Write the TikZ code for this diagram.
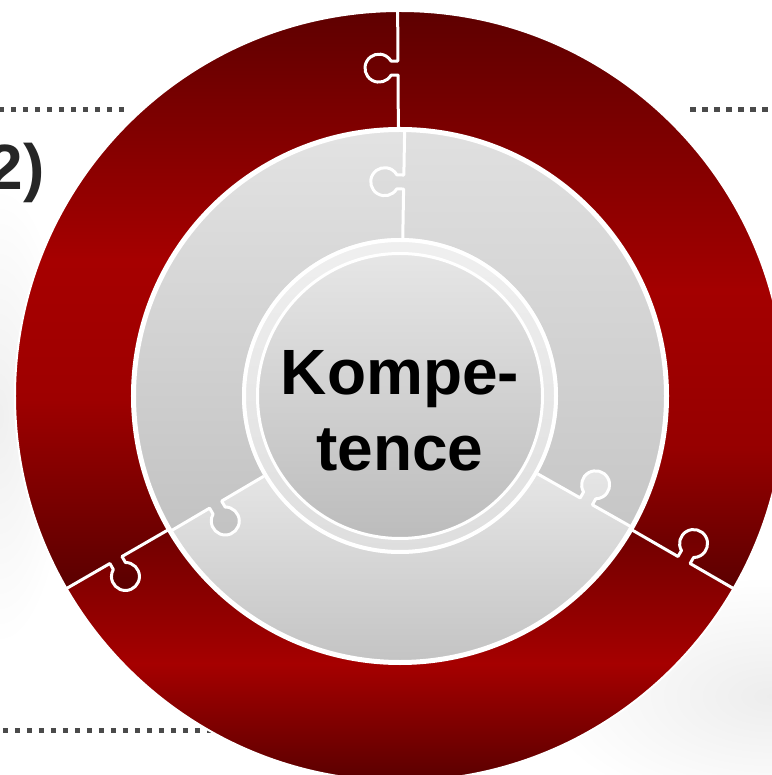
\documentclass[tikz,border=0pt]{standalone}
\usepackage{fontspec}
\setmainfont{Liberation Sans}
\definecolor{rA}{HTML}{5A0000}
\definecolor{rB}{HTML}{A60000}
\definecolor{rC}{HTML}{9E0000}
\definecolor{rD}{HTML}{540000}
\definecolor{rE}{HTML}{A40000}
\definecolor{rF}{HTML}{960000}
\definecolor{rG}{HTML}{6A0000}
\definecolor{rH}{HTML}{500000}
\definecolor{gA}{HTML}{E3E3E3}
\definecolor{gB}{HTML}{C2C2C2}
\definecolor{gC}{HTML}{E0E0E0}
\definecolor{gD}{HTML}{C6C6C6}
\definecolor{gE}{HTML}{E6E6E6}
\definecolor{gF}{HTML}{C3C3C3}
\definecolor{cdTop}{HTML}{E6E6E6}
\definecolor{cdBot}{HTML}{BCBCBC}
\definecolor{dotgray}{HTML}{4A4A4A}
\definecolor{txtgray}{HTML}{262626}
\tikzset{
  seamline/.style={draw=white, line width=3pt, line join=round, line cap=round},
  dotline/.style={draw=dotgray, line width=5pt, dash pattern=on 5.5pt off 6.5pt},
  bigbold/.style={font=\bfseries\fontsize{64}{64}\selectfont, inner sep=0pt},
}
% annular sector: rin, rout, a1, a2
\newcommand\sectorpath[4]{(#3:#1pt) -- (#3:#2pt) arc[start angle=#3,end angle=#4,radius=#2pt] -- (#4:#1pt) arc[start angle=#4,end angle=#3,radius=#1pt] -- cycle}
% knob outline in local frame (x radial, y towards CCW side)
\newcommand\knobpath[1]{(#1-7,-1) -- (#1-7,6.9) arc[start angle=240,end angle=-60,radius=14pt] -- (#1+7,-1) -- cycle}
% piece shadings (absolute frame)
\newcommand\shRedTL{%
  \shade[top color=rA, bottom color=rB] (-400,400) rectangle (400,135);
  \shade[top color=rB, bottom color=rC] (-400,137) rectangle (400,-5);
  \shade[top color=rC, bottom color=rD] (-400,-3) rectangle (400,-210);}
\newcommand\shRedTR{%
  \shade[top color=rA, bottom color=rE] (-400,400) rectangle (400,105);
  \shade[top color=rE, bottom color=rF] (-400,107) rectangle (400,-55);
  \shade[top color=rF, bottom color=rD] (-400,-53) rectangle (400,-210);}
\newcommand\shRedB{%
  \shade[top color=rG, bottom color=rB] (-400,-120) rectangle (400,-269);
  \shade[top color=rB, bottom color=rH] (-400,-267) rectangle (400,-400);}
\newcommand\shGrayTL{\shade[top color=gA, bottom color=gB] (-280,271) rectangle (280,-144);}
\newcommand\shGrayTR{\shade[top color=gC, bottom color=gD] (-280,271) rectangle (280,-139);}
\newcommand\shGrayB{\shade[top color=gE, bottom color=gF] (-280,-74) rectangle (280,-269);}
% knob fill: angle, rm, shading macro
\newcommand\knobfill[3]{%
  \begin{scope}[rotate=#1]
    \clip \knobpath{#2};
    \begin{scope}[rotate=-#1]#3\end{scope}
  \end{scope}}
% seam with knob: angle, rin, rm, rout
\newcommand\seamknob[4]{%
  \begin{scope}[rotate=#1]
    \draw[seamline] (#2,0) -- (#3-7,0) -- (#3-7,6.9) arc[start angle=240,end angle=-60,radius=14pt] -- (#3+7,0) -- (#4,0);
  \end{scope}}
\begin{document}
\begin{tikzpicture}[x=1pt,y=1pt]
\useasboundingbox (-400,-379) rectangle (371,396);
% background
\fill[white] (-400,-379) rectangle (371,396);
\shade[inner color=black!6, outer color=white] (-400,-20) ellipse[x radius=70pt, y radius=230pt];
\shade[inner color=black!7, outer color=white] (371,-300) ellipse[x radius=230pt, y radius=120pt];
% dotted lines
\coordinate (d1a) at (-401,286); \coordinate (d1b) at (-276,286);
\coordinate (d2a) at (290,286);  \coordinate (d2b) at (371,286);
\coordinate (d3a) at (-397,-334); \coordinate (d3b) at (-184,-334);
\draw[dotline] (d1a) -- (d1b);
\draw[dotline] (d2a) -- (d2b);
\draw[dotline] (d3a) -- (d3b);
% left partial label
\node[bigbold, text=txtgray, anchor=base east] (lbl) at (-355,206) {2)};
% red pieces
\begin{scope}\clip \sectorpath{266}{385}{90.35}{210}; \shRedTL \end{scope}
\begin{scope}\clip \sectorpath{266}{385}{-30}{90.35}; \shRedTR \end{scope}
\begin{scope}\clip \sectorpath{266}{385}{210}{330}; \shRedB \end{scope}
% gray pieces
\begin{scope}\clip \sectorpath{150}{267}{89}{210.5}; \shGrayTL \end{scope}
\begin{scope}\clip \sectorpath{150}{267}{-29.5}{89}; \shGrayTR \end{scope}
\begin{scope}\clip \sectorpath{150}{267}{210.5}{330.5}; \shGrayB \end{scope}
% knobs (owned by the clockwise neighbour)
\knobfill{90.35}{328}{\shRedTR}
\knobfill{-30}{328}{\shRedB}
\knobfill{210}{328}{\shRedTL}
\knobfill{89}{214}{\shGrayTR}
\knobfill{-29.5}{214}{\shGrayB}
\knobfill{210.5}{214}{\shGrayTL}
% white outlines
\draw[white, line width=2pt] (0,0) circle[radius=385pt];
\draw[white, line width=5pt] (0,0) circle[radius=266.5pt];
\seamknob{90.35}{266}{328}{388}
\seamknob{-30}{266}{328}{388}
\seamknob{210}{266}{328}{388}
\seamknob{89}{150}{214}{267}
\seamknob{-29.5}{150}{214}{267}
\seamknob{210.5}{150}{214}{267}
% centre disk
\shade[top color=black!6, bottom color=black!13] (0,0) circle[radius=158pt];
\draw[white, line width=4pt] (0,0) circle[radius=156pt];
\shade[top color=cdTop, bottom color=cdBot] (0,0) circle[radius=142pt];
\draw[white, line width=3pt] (0,0) circle[radius=142.5pt];
\node[bigbold, anchor=base] (k1) at (0,1) {Kompe-};
\node[bigbold, anchor=base] (k2) at (0,-75) {tence};
\end{tikzpicture}
\end{document}
